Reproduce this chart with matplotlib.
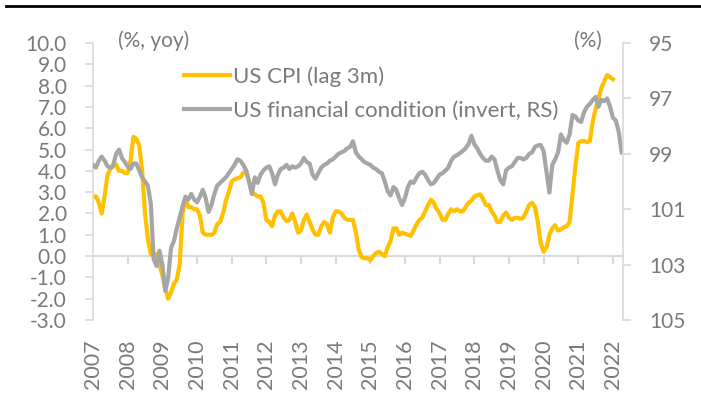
import numpy as np
import matplotlib.pyplot as plt
from matplotlib.lines import Line2D
from matplotlib.ticker import FuncFormatter

plt.rcParams['font.family'] = ['Lato', 'DejaVu Sans']

txt_col = '#7a7a7a'
axis_col = '#d9d9d9'
cpi_col = '#ffc000'
fci_col = '#a6a6a6'

# monthly, starting Jan 2007
start_year = 2007

# US CPI yoy %, lagged 3m (left axis)
cpi = [2.8, 2.8, 2.5, 2.0, 2.8, 3.8, 4.1, 4.2, 4.3, 4.0, 4.0, 3.9,   # 2007
       3.9, 4.5, 5.6, 5.5, 5.2, 4.0, 2.0, 0.8, 0.1, 0.0, 0.1, -0.4,  # 2008
       -0.9, -1.5, -2.0, -1.7, -1.3, -1.1, -0.4, 2.0, 2.7, 2.3, 2.3, 2.2,  # 2009
       2.2, 1.9, 1.1, 1.0, 1.0, 1.0, 1.1, 1.5, 1.6, 2.0, 2.6, 3.0,   # 2010
       3.5, 3.6, 3.65, 3.7, 3.9, 4.0, 3.5, 3.0, 2.9, 2.8, 2.8, 2.5,  # 2011
       1.7, 1.6, 1.4, 1.9, 2.1, 2.1, 1.8, 1.65, 1.7, 2.0, 1.6, 1.1,  # 2012
       1.2, 1.7, 1.95, 1.6, 1.25, 1.0, 1.0, 1.4, 1.6, 1.5, 1.1, 1.8,  # 2013
       2.1, 2.1, 2.0, 1.8, 1.7, 1.7, 1.7, 1.1, 0.3, -0.05, -0.1, -0.1,  # 2014
       -0.2, 0.0, 0.15, 0.2, 0.1, 0.0, 0.4, 0.7, 1.3, 1.3, 1.0, 1.1,  # 2015
       1.05, 1.0, 0.95, 1.2, 1.5, 1.7, 1.8, 2.1, 2.4, 2.65, 2.5, 2.2,  # 2016
       2.0, 1.7, 1.7, 2.0, 2.2, 2.1, 2.2, 2.1, 2.1, 2.3, 2.5, 2.6,   # 2017
       2.8, 2.85, 2.9, 2.7, 2.4, 2.4, 2.1, 1.9, 1.6, 1.6, 1.9, 2.05,  # 2018
       1.8, 1.7, 1.8, 1.8, 1.75, 1.8, 2.1, 2.4, 2.5, 2.3, 1.6, 0.6,  # 2019
       0.2, 0.4, 1.0, 1.3, 1.45, 1.2, 1.25, 1.35, 1.4, 1.6, 2.9, 4.2,  # 2020
       5.3, 5.4, 5.4, 5.35, 5.4, 6.3, 6.9, 7.4, 7.9, 8.2, 8.5, 8.4,  # 2021
       8.3]                                                          # 2022

# US financial conditions index, inverted (right axis)
fci = [99.4, 99.5, 99.25, 99.1, 99.25, 99.45, 99.5, 99.4, 99.0, 98.85, 99.15, 99.3,
       99.45, 99.55, 99.35, 99.35, 99.6, 99.85, 100.0, 100.15, 100.8, 102.8, 103.05, 102.5,
       103.0, 103.95, 103.5, 102.4, 102.15, 101.7, 101.3, 100.9, 100.55, 100.65, 100.45, 100.65,
       100.75, 100.55, 100.3, 100.6, 101.1, 100.85, 100.45, 100.15, 100.05, 99.95, 99.85, 99.7,
       99.55, 99.4, 99.2, 99.25, 99.4, 99.6, 100.0, 100.45, 99.85, 100.05, 99.75, 99.6,
       99.5, 99.45, 99.7, 100.1, 99.75, 99.55, 99.5, 99.4, 99.55, 99.45, 99.5, 99.45,
       99.35, 99.15, 99.3, 99.35, 99.75, 99.9, 99.7, 99.5, 99.4, 99.35, 99.25, 99.2,
       99.1, 99.0, 98.95, 98.9, 98.8, 98.75, 98.55, 98.95, 99.1, 99.2, 99.3, 99.35,
       99.4, 99.5, 99.55, 99.65, 99.7, 100.0, 100.35, 100.5, 100.2, 100.3, 100.6, 100.85,
       100.6, 100.2, 100.0, 100.05, 99.85, 99.7, 99.65, 99.75, 99.95, 100.1, 100.05, 99.9,
       99.75, 99.7, 99.6, 99.5, 99.25, 99.1, 99.05, 98.98, 98.9, 98.8, 98.65, 98.35,
       98.65, 98.8, 99.0, 99.15, 99.25, 99.25, 99.1, 99.2, 99.6, 99.95, 100.1, 99.6,
       99.5, 99.45, 99.3, 99.15, 99.15, 99.2, 99.15, 99.0, 98.95, 98.75, 98.7, 98.68,
       98.9, 99.65, 100.4, 99.4, 99.2, 98.95, 98.3, 98.5, 98.6, 98.3, 97.6, 97.65,
       97.8, 97.85, 97.5, 97.3, 97.2, 97.05, 96.95, 97.3, 97.05, 97.1, 97.0, 97.3,
       97.7, 97.8, 98.2, 98.95]

years = list(range(2007, 2023))
left_ticks = np.arange(-3, 10.5, 1.0)
right_ticks = [95, 97, 99, 101, 103, 105]

x_cpi = start_year + np.arange(len(cpi)) / 12
x_fci = start_year + np.arange(len(fci)) / 12

fig = plt.figure(figsize=(7.01, 4.07), dpi=100)
ax = fig.add_axes([0.1327, 0.2138, 0.7560, 0.6805])
ax2 = ax.twinx()

ax.plot(x_cpi, cpi, color=cpi_col, lw=3, solid_joinstyle='round', label='US CPI (lag 3m)')
ax2.plot(x_fci, fci, color=fci_col, lw=3, solid_joinstyle='round',
         label='US financial condition (invert, RS)')

ax.set_xlim(2007, 2022.29)
ax.set_ylim(-3, 10)
ax2.set_ylim(105, 95)

# zero line with year ticks
ax.axhline(0, color=axis_col, lw=1.5, zorder=0)
ax.vlines(years[1:], -0.38, 0, color=axis_col, lw=1.5, zorder=0)

ax.set_xticks(years)
ax.set_xticklabels([str(y) for y in years], rotation=90)
ax.tick_params(axis='x', length=0, pad=14, labelsize=15.5, colors=txt_col)

ax.set_yticks(left_ticks)
ax.yaxis.set_major_formatter(FuncFormatter(lambda v, p: f'{v:.1f}'))
ax.tick_params(axis='y', direction='out', length=6, width=1.2, color=axis_col,
               pad=13, labelsize=15, labelcolor=txt_col)
ax2.set_yticks(right_ticks)
ax2.tick_params(axis='y', direction='out', length=6, width=1.2, color=axis_col,
                pad=13, labelsize=15, labelcolor=txt_col)

for a in (ax, ax2):
    for s in ('top', 'bottom'):
        a.spines[s].set_visible(False)
    a.spines['left'].set_color(axis_col)
    a.spines['right'].set_color(axis_col)
    a.spines['left'].set_linewidth(1.2)
    a.spines['right'].set_linewidth(1.2)
ax.spines['right'].set_visible(False)
ax2.spines['left'].set_visible(False)

h1, l1 = ax.get_legend_handles_labels()
h2, l2 = ax2.get_legend_handles_labels()
leg = ax2.legend(h1 + h2, l1 + l2, loc='upper left', bbox_to_anchor=(0.172, 0.915),
                 frameon=False, fontsize=16, handlelength=2.05, handletextpad=0.15,
                 labelspacing=0.6, borderpad=0, borderaxespad=0)
for t in leg.get_texts():
    t.set_color(txt_col)

fig.text(118 / 701, 1 - 41 / 407, '(%, yoy)', color=txt_col, fontsize=15,
         ha='left', va='center')
fig.text(588 / 701, 1 - 41 / 407, '(%)', color=txt_col, fontsize=15,
         ha='center', va='center')

fig.add_artist(Line2D([6 / 701, 1], [1 - 6 / 407, 1 - 6 / 407], color='black', lw=2,
                      transform=fig.transFigure))

fig.savefig('out.png', dpi=100)
